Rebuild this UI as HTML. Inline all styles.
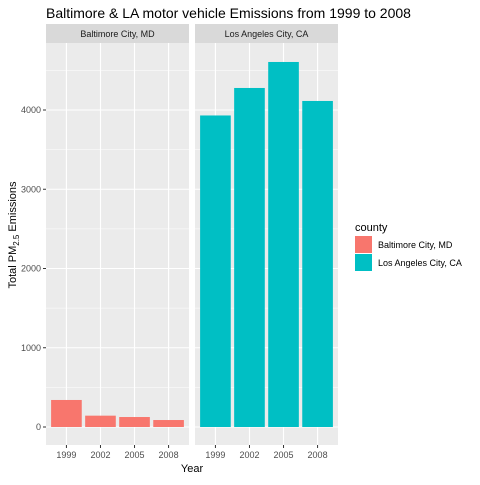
<!DOCTYPE html>
<html><head><meta charset="utf-8"><style>body{margin:0;background:#fff}svg{font-family:"Liberation Sans",Arial,sans-serif}</style></head>
<body>
<svg id="c" width="480" height="480">
<text x="46" y="18" font-size="14" fill="#000">Baltimore &amp; LA motor vehicle Emissions from 1999 to 2008</text>
<g id="g"></g>
<text transform="translate(16,235) rotate(-90)" text-anchor="middle" font-size="11">Total PM<tspan font-size="8" dy="3">2.5</tspan><tspan dy="-3"> Emissions</tspan></text>
<text x="192" y="472" text-anchor="middle" font-size="11">Year</text>
<g>
<text x="355" y="231" font-size="11">county</text>
<rect x="355" y="236" width="17" height="17" fill="#F8766D"/>
<text x="378" y="248" font-size="9" fill="#000">Baltimore City, MD</text>
<rect x="355" y="254" width="17" height="17" fill="#00BFC4"/>
<text x="378" y="266" font-size="9" fill="#000">Los Angeles City, CA</text>
</g>
</svg>
<script>
const categories=["1999","2002","2005","2008"];
const panels=["Baltimore City, MD","Los Angeles City, CA"];
const baltimore=[341,143,126,88];
const losAngeles=[3931,4278,4606,4114];
const yTicks=[0,1000,2000,3000,4000];
const series=[baltimore,losAngeles];
const colors=["#F8766D","#00BFC4"];
const NS="http://www.w3.org/2000/svg";
const g=document.getElementById("g");
const ptop=43,bot=445,y0=427,pxPer=79.25/1000;
const y=v=>y0-v*pxPer;
const pw=143,px=[46,195];
function mk(t,a){const e=document.createElementNS(NS,t);for(const k in a)e.setAttribute(k,a[k]);g.appendChild(e);return e;}
panels.forEach((p,pi)=>{
 const x0=px[pi];const band=pw/(categories.length-1+1.2);
 const xc=i=>x0+band*0.6+band*i;
 let e=mk("rect",{x:x0,y:24,width:pw,height:19,fill:"#D9D9D9"});
 
 
 e=mk("text",{x:x0+pw/2,y:37,"text-anchor":"middle","font-size":"9",fill:"#1a1a1a"});e.textContent=p;
 
 
 e=mk("rect",{x:x0,y:ptop,width:pw,height:bot-ptop,fill:"#EBEBEB"});
 
 
 yTicks.forEach(t=>{const m=t+500;if(y(m)>ptop)mk("line",{x1:x0,x2:x0+pw,y1:y(m),y2:y(m),stroke:"#fff","stroke-width":0.5});
  mk("line",{x1:x0,x2:x0+pw,y1:y(t),y2:y(t),stroke:"#fff","stroke-width":1.1});});
 categories.forEach((c,i)=>{mk("line",{x1:xc(i),x2:xc(i),y1:ptop,y2:bot,stroke:"#fff","stroke-width":1.1});
  mk("line",{x1:xc(i),x2:xc(i),y1:bot,y2:bot+3,stroke:"#333"});
  const t=mk("text",{x:xc(i),y:bot+13,"text-anchor":"middle","font-size":"9",fill:"#4d4d4d"});t.textContent=c;
  
  });
 series[pi].forEach((v,i)=>{const w=band*0.9;
  const r=mk("rect",{x:xc(i)-w/2,y:y(v),width:w,height:y0-y(v),fill:colors[pi]});
  
  });
});
yTicks.forEach(t=>{mk("line",{x1:43,x2:46,y1:y(t),y2:y(t),stroke:"#333"});
 const e=mk("text",{x:41,y:y(t)+3,"text-anchor":"end","font-size":"9",fill:"#4d4d4d"});e.textContent=t;
 
 });
</script>
</body></html>
